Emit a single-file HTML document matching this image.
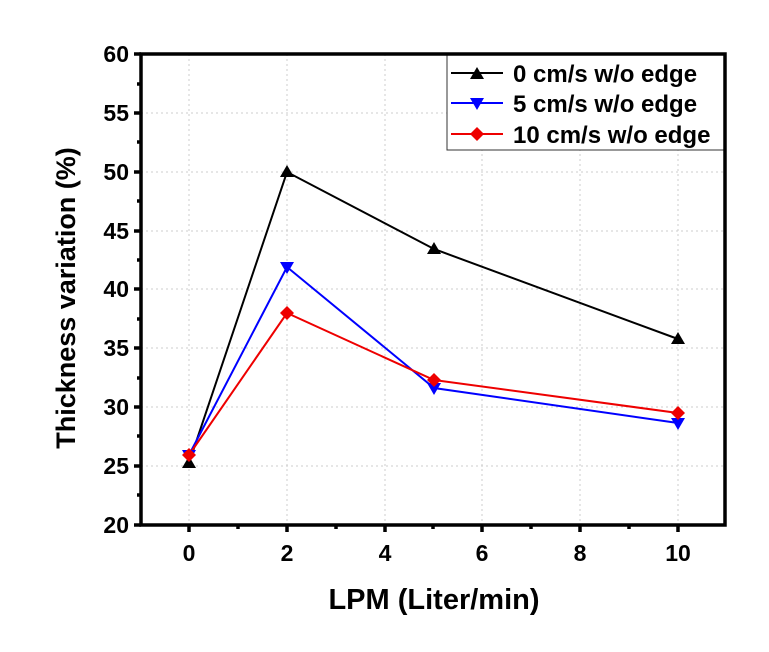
<!DOCTYPE html><html><head><style>body{margin:0;background:#fff}svg{display:block}text{font-family:"Liberation Sans",Arial,sans-serif;font-weight:bold}</style></head><body>
<svg width="769" height="652" viewBox="0 0 769 652">
<g stroke="#ccc" stroke-width="1" stroke-dasharray="2,3">
<line x1="189" y1="54" x2="189" y2="525"/><line x1="287" y1="54" x2="287" y2="525"/><line x1="385" y1="54" x2="385" y2="525"/><line x1="482" y1="54" x2="482" y2="525"/><line x1="580" y1="54" x2="580" y2="525"/><line x1="678" y1="54" x2="678" y2="525"/>
<line x1="141" y1="466" x2="725" y2="466"/><line x1="141" y1="407" x2="725" y2="407"/><line x1="141" y1="348" x2="725" y2="348"/><line x1="141" y1="289" x2="725" y2="289"/><line x1="141" y1="231" x2="725" y2="231"/><line x1="141" y1="172" x2="725" y2="172"/><line x1="141" y1="113" x2="725" y2="113"/>
</g>
<rect x="447" y="54" width="277" height="96" fill="#fff" stroke="#333" stroke-width="1"/>
<rect x="141" y="54" width="584" height="471" fill="none" stroke="#000" stroke-width="3.5"/>
<g stroke="#000" stroke-width="3.5">
<line x1="189" y1="525" x2="189" y2="532"/><line x1="287" y1="525" x2="287" y2="532"/><line x1="385" y1="525" x2="385" y2="532"/><line x1="482" y1="525" x2="482" y2="532"/><line x1="580" y1="525" x2="580" y2="532"/><line x1="678" y1="525" x2="678" y2="532"/>
<line x1="238" y1="525" x2="238" y2="529"/><line x1="336" y1="525" x2="336" y2="529"/><line x1="433" y1="525" x2="433" y2="529"/><line x1="531" y1="525" x2="531" y2="529"/><line x1="629" y1="525" x2="629" y2="529"/>
<line x1="134" y1="525" x2="141" y2="525"/><line x1="134" y1="466" x2="141" y2="466"/><line x1="134" y1="407" x2="141" y2="407"/><line x1="134" y1="348" x2="141" y2="348"/><line x1="134" y1="289" x2="141" y2="289"/><line x1="134" y1="231" x2="141" y2="231"/><line x1="134" y1="172" x2="141" y2="172"/><line x1="134" y1="113" x2="141" y2="113"/><line x1="134" y1="54" x2="141" y2="54"/>
<line x1="137" y1="495" x2="141" y2="495"/><line x1="137" y1="436" x2="141" y2="436"/><line x1="137" y1="378" x2="141" y2="378"/><line x1="137" y1="319" x2="141" y2="319"/><line x1="137" y1="260" x2="141" y2="260"/><line x1="137" y1="201" x2="141" y2="201"/><line x1="137" y1="142" x2="141" y2="142"/><line x1="137" y1="84" x2="141" y2="84"/>
</g>
<g font-size="23" text-anchor="end">
<text x="129" y="533">20</text><text x="129" y="474">25</text><text x="129" y="415">30</text><text x="129" y="356">35</text><text x="129" y="297">40</text><text x="129" y="239">45</text><text x="129" y="180">50</text><text x="129" y="121">55</text><text x="129" y="62">60</text>
</g>
<g font-size="23" text-anchor="middle">
<text x="189" y="561">0</text><text x="287" y="561">2</text><text x="385" y="561">4</text><text x="482" y="561">6</text><text x="580" y="561">8</text><text x="678" y="561">10</text>
</g>
<text x="434" y="609" font-size="29" text-anchor="middle">LPM (Liter/min)</text>
<text transform="translate(75,298) rotate(-90)" font-size="27" text-anchor="middle">Thickness variation (%)</text>
<polyline fill="none" stroke="#000" stroke-width="2" points="189,463 287,172 434,249 678,339"/>
<polyline fill="none" stroke="#00f" stroke-width="2" points="189,455 287,267 434,388 678,423"/>
<polyline fill="none" stroke="#e00" stroke-width="2" points="189,455 287,313 434,380 678,413"/>
<g fill="#000"><path d="M189,456l7,12h-14z"/><path d="M287,165l7,12h-14z"/><path d="M434,242l7,12h-14z"/><path d="M678,332l7,12h-14z"/></g>
<g fill="#00f"><path d="M189,462l7,-12h-14z"/><path d="M287,274l7,-12h-14z"/><path d="M434,395l7,-12h-14z"/><path d="M678,430l7,-12h-14z"/></g>
<g fill="#e00"><path d="M189,448l7,7-7,7-7-7z"/><path d="M287,306l7,7-7,7-7-7z"/><path d="M434,373l7,7-7,7-7-7z"/><path d="M678,406l7,7-7,7-7-7z"/></g>
<line x1="451" y1="73" x2="503" y2="73" stroke="#000" stroke-width="2"/><path d="M477,67l7,12h-14z"/>
<line x1="451" y1="103" x2="503" y2="103" stroke="#00f" stroke-width="2"/><path d="M477,110l7,-12h-14z" fill="#00f"/>
<line x1="451" y1="134" x2="503" y2="134" stroke="#e00" stroke-width="2"/><path d="M477,127l7,7-7,7-7-7z" fill="#e00"/>
<g font-size="24"><text x="513" y="82">0 cm/s w/o edge</text><text x="513" y="112">5 cm/s w/o edge</text><text x="513" y="143">10 cm/s w/o edge</text></g>
</svg></body></html>
